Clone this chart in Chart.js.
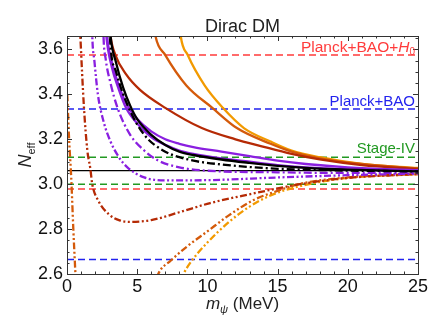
<!DOCTYPE html>
<html>
<head>
<meta charset="utf-8">
<script src="https://cdn.jsdelivr.net/npm/chart.js@4.4.1/dist/chart.umd.min.js"></script>
<style>
  html, body { margin: 0; padding: 0; background: #fff; }
</style>
</head>
<body>
<canvas id="neffChart" width="447" height="335"></canvas>
<script>
// x ticks / y ticks
const xTicks = [0, 5, 10, 15, 20, 25];
const yTicks = [2.6, 2.8, 3.0, 3.2, 3.4, 3.6];

// bounds (horizontal reference lines)
const planckBaoH0 = [3.575, 2.979];
const planckBao = [3.335, 2.665];
const stageIV = [3.12, 3.0];
const neffSM = 3.06;

// curves: [m_psi (MeV), Neff]
const blackSolid = [[2.95,3.8],[3.1,3.66],[3.5,3.54],[4,3.43],[4.5,3.35],[5,3.29],[6,3.22],[7,3.175],[8,3.145],[9,3.13],[11,3.11],[13,3.095],[15,3.082],[17,3.073],[20,3.065],[25,3.057]];
const blackDashDot = [[2.98,3.8],[3.05,3.66],[3.5,3.5],[4.4,3.34],[5.5,3.22],[7,3.145],[9,3.105],[11,3.088],[14,3.072],[18,3.063],[25,3.057]];
const purpleSolid1 = [[2.7,3.8],[2.85,3.66],[3.3,3.52],[3.8,3.42],[4.3,3.35],[5,3.29],[6,3.235],[7,3.2],[8,3.18],[9,3.165],[11,3.145],[13,3.125],[15,3.105],[17,3.09],[20,3.075],[25,3.062]];
const purpleSolid2 = [[2.65,3.8],[2.8,3.66],[3.2,3.52],[3.7,3.42],[4.2,3.34],[5,3.27],[6,3.21],[7,3.175],[8,3.15],[9,3.135],[11,3.115],[13,3.1],[15,3.085],[17,3.075],[20,3.066],[25,3.058]];
const purpleDashDot1 = [[1.75,3.8],[1.8,3.66],[1.95,3.55],[2.2,3.4],[2.6,3.28],[3.1,3.19],[3.7,3.12],[4.3,3.075],[5.5,3.03],[7,3.017],[10,3.018],[15,3.03],[20,3.04],[25,3.047]];
const purpleDashDot2 = [[2.55,3.8],[2.6,3.66],[2.75,3.56],[3.1,3.45],[3.6,3.34],[4.5,3.22],[5.5,3.15],[6.5,3.105],[8,3.075],[10,3.06],[15,3.053],[20,3.05],[25,3.05]];
const redSolid = [[2.9,3.8],[3.1,3.66],[3.45,3.575],[4.2,3.49],[5.2,3.42],[7,3.34],[9.6,3.25],[12,3.2],[13.8,3.17],[16,3.135],[18,3.11],[21,3.085],[25,3.068]];
const redDashDot = [[0.85,3.8],[0.95,3.66],[1.2,3.35],[1.45,3.15],[1.66,3.07],[1.8,3.0],[2.2,2.93],[3,2.865],[3.8,2.838],[4.5,2.832],[6,2.84],[8,2.875],[10.2,2.916],[13,2.955],[16.6,3.0],[20,3.028],[25,3.045]];
const rustSolid = [[6.0,3.8],[6.3,3.66],[7.0,3.575],[8.5,3.44],[10.35,3.34],[12.1,3.25],[14.5,3.18],[16,3.145],[18,3.115],[21,3.09],[25,3.07]];
const rustDashDot = [[0.02,3.4],[0.15,3.2],[0.3,3.03],[0.45,2.8],[0.6,2.6],[0.75,2.4],[3,2.1],[6,2.5],[6.5,2.6],[7.4,2.66],[8.5,2.72],[10,2.79],[11.5,2.86],[13.3,2.93],[15,2.97],[16.5,3.0],[20,3.03],[25,3.045]];
const orangeSolid = [[7.9,3.8],[8.1,3.66],[8.6,3.575],[9.8,3.44],[11.1,3.34],[12.6,3.25],[14.5,3.19],[16,3.15],[18,3.12],[21,3.09],[25,3.072]];
const orangeDashDot = [[8.0,2.55],[8.3,2.6],[8.9,2.66],[10,2.74],[11.5,2.83],[13,2.9],[14.5,2.95],[16.5,2.99],[20,3.028],[25,3.045]];

const RED = '#ff3b3b', BLUE = '#2222ee', GREEN = '#229922';
const PURPLE = '#8a1fe0', DARKRED = '#b52a05', RUST = '#d45a0a', ORANGE = '#f29a00';
const DASHDOT = [8, 3, 2, 3];
const DASHDOTDOT = [7, 2.5, 2, 2.5, 2, 2.5];
const FONT = '"Liberation Sans", Arial, sans-serif';

function curve(points, color, dash) {
    return {
        data: points.map(p => ({ x: p[0], y: p[1] })),
        borderColor: color,
        borderWidth: 2.3,
        borderDash: dash || [],
        pointRadius: 0,
        cubicInterpolationMode: 'monotone',
        fill: false
    };
}

function hline(v, color, dash, width) {
    return {
        data: [{ x: 0, y: v }, { x: 25, y: v }],
        borderColor: color,
        borderWidth: width,
        borderDash: dash,
        pointRadius: 0,
        fill: false
    };
}

const datasets = [
    curve(blackSolid, '#000'),
    curve(blackDashDot, '#000', DASHDOT),
    curve(purpleSolid1, PURPLE),
    curve(purpleSolid2, PURPLE),
    curve(purpleDashDot1, PURPLE, DASHDOTDOT),
    curve(purpleDashDot2, PURPLE, DASHDOT),
    curve(redSolid, DARKRED),
    curve(redDashDot, DARKRED, DASHDOTDOT),
    curve(rustSolid, RUST),
    curve(rustDashDot, RUST, DASHDOTDOT),
    curve(orangeSolid, ORANGE),
    curve(orangeDashDot, ORANGE, DASHDOTDOT),
    hline(planckBaoH0[0], RED, [7, 4], 1.5),
    hline(planckBaoH0[1], RED, [7, 4], 1.5),
    hline(planckBao[0], BLUE, [7, 4], 1.5),
    hline(planckBao[1], BLUE, [7, 4], 1.5),
    hline(stageIV[0], GREEN, [7, 4], 1.5),
    hline(stageIV[1], GREEN, [7, 4], 1.5),
    hline(neffSM, '#000', [], 1.3)
];

// draws frame, inward ticks, title, axis titles and line labels
const framePlugin = {
    id: 'frame',
    afterDraw(chart) {
        const ctx = chart.ctx;
        const a = chart.chartArea;
        const xs = chart.scales.x, ys = chart.scales.y;
        ctx.save();
        ctx.strokeStyle = '#333';
        ctx.lineWidth = 1;
        ctx.strokeRect(a.left + 0.5, a.top + 0.5, a.right - a.left, a.bottom - a.top);

        ctx.beginPath();
        for (let m = 0; m <= 25; m++) {
            const px = Math.round(xs.getPixelForValue(m)) + 0.5;
            const len = m % 5 === 0 ? 5 : 2.5;
            ctx.moveTo(px, a.bottom); ctx.lineTo(px, a.bottom - len);
            ctx.moveTo(px, a.top); ctx.lineTo(px, a.top + len);
        }
        for (let i = 0; i <= 21; i++) {
            const v = 2.6 + i * 0.05;
            const py = Math.round(ys.getPixelForValue(v)) + 0.5;
            const len = i % 4 === 0 ? 5 : 2.5;
            ctx.moveTo(a.left, py); ctx.lineTo(a.left + len, py);
            ctx.moveTo(a.right, py); ctx.lineTo(a.right - len, py);
        }
        ctx.stroke();

        const cx = (a.left + a.right) / 2;
        ctx.fillStyle = '#222';
        ctx.textBaseline = 'alphabetic';
        ctx.textAlign = 'center';
        ctx.font = '18px ' + FONT;
        ctx.fillText('Dirac DM', cx, 31.5);

        // x title: m_psi (MeV)
        ctx.textAlign = 'left';
        const fMain = '17px ' + FONT;
        const fIt = 'italic 17px ' + FONT;
        const fSub = 'italic 11px ' + FONT;
        ctx.font = fIt; const w1 = ctx.measureText('m').width;
        ctx.font = fSub; const w2 = ctx.measureText('\u03c8').width;
        ctx.font = fMain; const w3 = ctx.measureText(' (MeV)').width;
        let x0 = cx - (w1 + w2 + w3) / 2;
        const by = 309;
        ctx.font = fIt; ctx.fillText('m', x0, by);
        ctx.font = fSub; ctx.fillText('\u03c8', x0 + w1, by + 4);
        ctx.font = fMain; ctx.fillText(' (MeV)', x0 + w1 + w2, by);

        // y title: N_eff
        ctx.save();
        ctx.translate(31, (a.top + a.bottom) / 2);
        ctx.rotate(-Math.PI / 2);
        ctx.font = 'italic 18px ' + FONT;
        const n1 = ctx.measureText('N').width;
        ctx.font = '11px ' + FONT;
        const n2 = ctx.measureText('eff').width;
        const s = -(n1 + n2) / 2;
        ctx.font = 'italic 18px ' + FONT;
        ctx.fillText('N', s, 0);
        ctx.font = '11px ' + FONT;
        ctx.fillText('eff', s + n1, 4);
        ctx.restore();

        // labels for bounds
        const rx = a.right - 3;
        ctx.font = '15px ' + FONT;
        ctx.textAlign = 'right';
        ctx.fillStyle = BLUE;
        ctx.fillText('Planck+BAO', rx, ys.getPixelForValue(planckBao[0]) - 2.5);
        ctx.fillStyle = GREEN;
        ctx.fillText('Stage-IV', rx, ys.getPixelForValue(stageIV[0]) - 4);

        ctx.fillStyle = RED;
        ctx.textAlign = 'left';
        const ry = ys.getPixelForValue(planckBaoH0[0]) - 3.5;
        ctx.font = '15.5px ' + FONT;
        const t1 = ctx.measureText('Planck+BAO+').width;
        ctx.font = 'italic 15.5px ' + FONT;
        const t2 = ctx.measureText('H').width;
        ctx.font = '10px ' + FONT;
        const t3 = ctx.measureText('0').width;
        const sx = rx - t1 - t2 - t3;
        ctx.font = '15.5px ' + FONT;
        ctx.fillText('Planck+BAO+', sx, ry);
        ctx.font = 'italic 15.5px ' + FONT;
        ctx.fillText('H', sx + t1, ry);
        ctx.font = '10px ' + FONT;
        ctx.fillText('0', sx + t1 + t2, ry + 3);
        ctx.restore();
    }
};

const tickFont = { family: FONT, size: 18 };

new Chart(document.getElementById('neffChart'), {
    type: 'line',
    data: { datasets: datasets },
    options: {
        responsive: false,
        animation: false,
        devicePixelRatio: 1,
        layout: { padding: { top: 36, right: 29, left: 0, bottom: 0 } },
        plugins: { legend: { display: false }, tooltip: { enabled: false } },
        scales: {
            x: {
                type: 'linear',
                min: 0,
                max: 25,
                grid: { display: false, drawTicks: false },
                border: { display: false },
                afterBuildTicks: s => { s.ticks = xTicks.map(v => ({ value: v })); },
                afterFit: s => { s.height = 61; },
                ticks: { color: '#111', font: tickFont, padding: 2, maxRotation: 0, callback: v => String(v) }
            },
            y: {
                type: 'linear',
                min: 2.6,
                max: 3.66,
                grid: { display: false, drawTicks: false },
                border: { display: false },
                afterBuildTicks: s => { s.ticks = yTicks.map(v => ({ value: v })); },
                afterFit: s => { s.width = 67; },
                ticks: { color: '#111', font: tickFont, padding: 4, callback: v => v.toFixed(1) }
            }
        }
    },
    plugins: [framePlugin]
});
</script>
</body>
</html>
